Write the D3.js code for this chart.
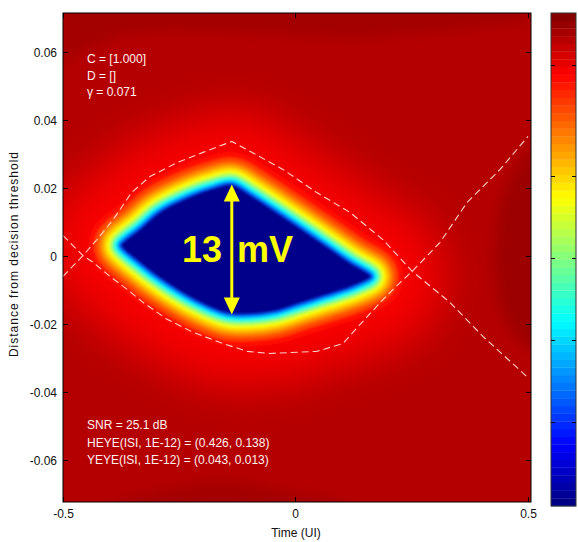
<!DOCTYPE html>
<html><head><meta charset="utf-8">
<script src="https://cdn.jsdelivr.net/npm/d3@7"></script>
<style>
body{margin:0;background:#fff}
svg{display:block}
text{font-family:"Liberation Sans",Arial,Helvetica,sans-serif}
</style>
</head><body>
<svg id="chart" width="578" height="542"></svg>
<script>
// ---------------- data ----------------
const xTicks = [-0.5, 0, 0.5];
const xTickLabels = ["-0.5", "0", "0.5"];
const yTicks = [-0.06, -0.04, -0.02, 0, 0.02, 0.04, 0.06];
const yTickLabels = ["-0.06", "-0.04", "-0.02", "0", "0.02", "0.04", "0.06"];
const xDomain = [-0.5, 0.5065];
const yDomain = [-0.0722, 0.0713];

// open-eye core (deep blue region), [time UI, volts]
const eyeCore = [
  [-0.375, 0.0034], [-0.334, 0.0080], [-0.291, 0.0130], [-0.220, 0.0178], [-0.173, 0.0200],
  [-0.137, 0.0210], [-0.098, 0.0180], [-0.027, 0.0116], [0.046, 0.0048], [0.117, -0.0019],
  [0.162, -0.0057], [0.162, -0.0063], [0.117, -0.0092], [0.063, -0.0116], [0.010, -0.0139],
  [-0.044, -0.0162], [-0.098, -0.0171], [-0.147, -0.0168], [-0.220, -0.0126], [-0.291, -0.0066],
  [-0.334, -0.0021], [-0.375, 0.0028]
];
// colour level (0..1 of colormap) and its distance (volts) outside the eye core
const levelValue  = [0.93, 0.905, 0.885, 0.86, 0.80, 0.74, 0.68, 0.62, 0.55, 0.45, 0.37, 0.28, 0.18];
const levelMargin = [0.0270, 0.0215, 0.0155, 0.0095, 0.0077, 0.0063, 0.0052, 0.0042, 0.0033, 0.0025, 0.0018, 0.0011, 0.0005];
const coreValue = 0.01;
const backgroundValue = 0.948;

// darker background regions
const darkTop = [
  [-0.5, 0.0713], [-0.5, 0.0562], [-0.453, 0.0606], [-0.377, 0.0650], [-0.270, 0.0664],
  [-0.141, 0.0659], [0.010, 0.0647], [0.139, 0.0641], [0.268, 0.0656], [0.397, 0.0673],
  [0.5065, 0.0688], [0.5065, 0.0713]
];
const darkBottom = [
  [-0.377, -0.0722], [-0.291, -0.0691], [-0.184, -0.0665], [-0.098, -0.0670], [0.010, -0.0700], [0.096, -0.0722]
];
const darkRight = [
  [0.5065, 0.0313], [0.451, 0.0195], [0.429, 0.0001], [0.451, -0.0186], [0.5065, -0.0274]
];
const darkValue = 0.965;
const darkRightValue = 0.972;

// 1E-12 contour traces (dashed)
const traceA = [
  [-0.5, -0.0060], [-0.457, 0.0001], [-0.427, 0.0048], [-0.392, 0.0107], [-0.352, 0.0187],
  [-0.313, 0.0233], [-0.255, 0.0274], [-0.199, 0.0304], [-0.137, 0.0336], [-0.098, 0.0307],
  [-0.027, 0.0254], [0.046, 0.0186], [0.117, 0.0128], [0.188, 0.0048], [0.251, -0.0045],
  [0.332, -0.0136], [0.403, -0.0236], [0.5, -0.0357]
];
const traceB = [
  [-0.5, 0.0060], [-0.457, 0.0001], [-0.435, -0.0019], [-0.399, -0.0060], [-0.362, -0.0098],
  [-0.328, -0.0136], [-0.276, -0.0186], [-0.220, -0.0224], [-0.162, -0.0254], [-0.104, -0.0280],
  [-0.055, -0.0286], [0.046, -0.0280], [0.102, -0.0257], [0.139, -0.0201], [0.188, -0.0128],
  [0.225, -0.0078], [0.251, -0.0045], [0.311, 0.0040], [0.369, 0.0157], [0.440, 0.0254], [0.5, 0.0351]
];

// eye-height arrow and label
const arrowX = -0.137;
const arrowY = [-0.0172, 0.0210];
const eyeLabel = "13 mV";
const eyeLabelAt = [-0.244, -0.0019];

const infoTop = ["C = [1.000]", "D = []", "γ = 0.071"];
const infoBottom = ["SNR = 25.1 dB", "HEYE(ISI, 1E-12) = (0.426, 0.138)", "YEYE(ISI, 1E-12) = (0.043, 0.013)"];
const xLabel = "Time (UI)";
const yLabel = "Distance from decision threshold";
const colorbarTicks = [0.170, 0.337, 0.503, 0.669, 0.894];
const nColors = 64;

// ---------------- rendering ----------------
function jet(t) {
  const c = v => Math.max(0, Math.min(1, v));
  const r = c(1.5 - Math.abs(4 * t - 3)), g = c(1.5 - Math.abs(4 * t - 2)), b = c(1.5 - Math.abs(4 * t - 1));
  return d3.rgb(r * 255, g * 255, b * 255).formatHex();
}

const svg = d3.select("#chart");
const L = 63, R = 531, T = 13, B = 502;
const x = d3.scaleLinear().domain(xDomain).range([L, R]);
const y = d3.scaleLinear().domain(yDomain).range([B, T]);
const pxPerVolt = Math.abs(y(0) - y(1));

const defs = svg.append("defs");
defs.append("clipPath").attr("id", "plotClip").append("rect")
  .attr("x", L).attr("y", T).attr("width", R - L).attr("height", B - T);
[["blurBig", 12], ["blurMid", 7], ["blurSmall", 1.7]].forEach(([id, s]) => {
  defs.append("filter").attr("id", id).attr("filterUnits", "userSpaceOnUse")
    .attr("x", -100).attr("y", -100).attr("width", 800).attr("height", 750)
    .append("feGaussianBlur").attr("stdDeviation", s);
});

const plot = svg.append("g").attr("clip-path", "url(#plotClip)");
plot.append("rect").attr("x", L).attr("y", T).attr("width", R - L).attr("height", B - T)
  .attr("fill", jet(backgroundValue));

const area = d3.line().x(d => x(d[0])).y(d => y(d[1]));
const smoothClosed = d3.line().x(d => x(d[0])).y(d => y(d[1])).curve(d3.curveCatmullRomClosed.alpha(0.5));

const darkG = plot.append("g").attr("filter", "url(#blurMid)");
darkG.append("path").attr("d", area(darkTop.concat([[0.6, 0.09], [-0.6, 0.09]]))).attr("fill", jet(darkValue));
darkG.append("path").attr("d", smoothClosed(darkBottom.concat([[0.2, -0.09], [-0.45, -0.09]]))).attr("fill", jet(darkValue));
darkG.append("path").attr("d", smoothClosed(darkRight.concat([[0.6, -0.03], [0.6, 0.035]]))).attr("fill", jet(darkRightValue));

const eyePath = smoothClosed(eyeCore);
const glowG = plot.append("g").attr("filter", "url(#blurBig)");
const bandG = plot.append("g").attr("filter", "url(#blurSmall)");
levelValue.forEach((v, i) => {
  const g = i < 3 ? glowG : bandG;
  g.append("path").attr("d", eyePath)
    .attr("fill", jet(v)).attr("stroke", jet(v))
    .attr("stroke-width", 2 * levelMargin[i] * pxPerVolt)
    .attr("stroke-linejoin", "round");
});
bandG.append("path").attr("d", eyePath).attr("fill", jet(coreValue));

const traceLine = d3.line().x(d => x(d[0])).y(d => y(d[1])).curve(d3.curveLinear);
[traceA, traceB].forEach(tr => {
  plot.append("path").attr("d", traceLine(tr)).attr("fill", "none")
    .attr("stroke", "#ffe6e6").attr("stroke-opacity", 0.9).attr("stroke-width", 1.1)
    .attr("stroke-dasharray", "7,4");
});

// arrow
const ax = x(arrowX), ay0 = y(arrowY[0]), ay1 = y(arrowY[1]);
const yellow = "#ffff00";
plot.append("line").attr("x1", ax).attr("x2", ax).attr("y1", ay1 + 12).attr("y2", ay0 - 12)
  .attr("stroke", yellow).attr("stroke-width", 3);
plot.append("path").attr("d", `M${ax},${ay1} L${ax - 8},${ay1 + 17} L${ax + 8},${ay1 + 17} Z`).attr("fill", yellow);
plot.append("path").attr("d", `M${ax},${ay0} L${ax - 8},${ay0 - 17} L${ax + 8},${ay0 - 17} Z`).attr("fill", yellow);
plot.append("text").attr("x", x(eyeLabelAt[0])).attr("y", y(eyeLabelAt[1]))
  .attr("font-size", 36).attr("font-weight", "bold").attr("fill", yellow)
  .attr("word-spacing", 5).text(eyeLabel);

// info texts
infoTop.forEach((t, i) => {
  svg.append("text").attr("x", 87).attr("y", 63 + i * 16.5).attr("font-size", 12).attr("fill", "#fff0f0").text(t);
});
infoBottom.forEach((t, i) => {
  svg.append("text").attr("x", 87).attr("y", 429 + i * 17.5).attr("font-size", 12).attr("fill", "#fff0f0").text(t);
});

// frame and ticks
svg.append("rect").attr("x", L).attr("y", T).attr("width", R - L).attr("height", B - T)
  .attr("fill", "none").attr("stroke", "#000").attr("stroke-width", 1);
const tl = 5;
yTicks.forEach((v, i) => {
  const yy = Math.round(y(v)) + 0.5;
  svg.append("line").attr("x1", L).attr("x2", L + tl).attr("y1", yy).attr("y2", yy).attr("stroke", "#000");
  svg.append("line").attr("x1", R - tl).attr("x2", R).attr("y1", yy).attr("y2", yy).attr("stroke", "#000");
  svg.append("text").attr("x", 57).attr("y", yy + 4.5).attr("text-anchor", "end").attr("font-size", 12)
    .attr("fill", "#111").text(yTickLabels[i]);
});
xTicks.forEach((v, i) => {
  const xx = Math.round(x(v)) + 0.5;
  svg.append("line").attr("x1", xx).attr("x2", xx).attr("y1", B - tl).attr("y2", B).attr("stroke", "#000");
  svg.append("line").attr("x1", xx).attr("x2", xx).attr("y1", T).attr("y2", T + tl).attr("stroke", "#000");
  svg.append("text").attr("x", xx).attr("y", 518).attr("text-anchor", "middle").attr("font-size", 12)
    .attr("fill", "#111").text(xTickLabels[i]);
});
svg.append("text").attr("x", 296).attr("y", 537).attr("text-anchor", "middle").attr("font-size", 12)
  .attr("fill", "#111").text(xLabel);
svg.append("text").attr("transform", "translate(18,254) rotate(-90)").attr("text-anchor", "middle")
  .attr("font-size", 12).attr("letter-spacing", 1.0).attr("fill", "#111").text(yLabel);

// colorbar
const cbL = 551, cbR = 576, cbT = 13, cbB = 506;
const cScale = d3.scaleLinear().domain([0, 1]).range([cbB, cbT]);
const cells = d3.range(nColors);
svg.append("g").selectAll("rect").data(cells).join("rect")
  .attr("x", cbL).attr("width", cbR - cbL)
  .attr("y", d => cScale((d + 1) / nColors)).attr("height", (cbB - cbT) / nColors + 0.3)
  .attr("fill", d => jet((d + 0.5) / nColors));
svg.append("rect").attr("x", cbL).attr("y", cbT).attr("width", cbR - cbL).attr("height", cbB - cbT)
  .attr("fill", "none").attr("stroke", "#333");
colorbarTicks.forEach(v => {
  const yy = Math.round(cScale(v)) + 0.5;
  svg.append("line").attr("x1", cbL).attr("x2", cbL + 4).attr("y1", yy).attr("y2", yy).attr("stroke", "#000");
  svg.append("line").attr("x1", cbR - 4).attr("x2", cbR).attr("y1", yy).attr("y2", yy).attr("stroke", "#000");
});
</script>
</body></html>
